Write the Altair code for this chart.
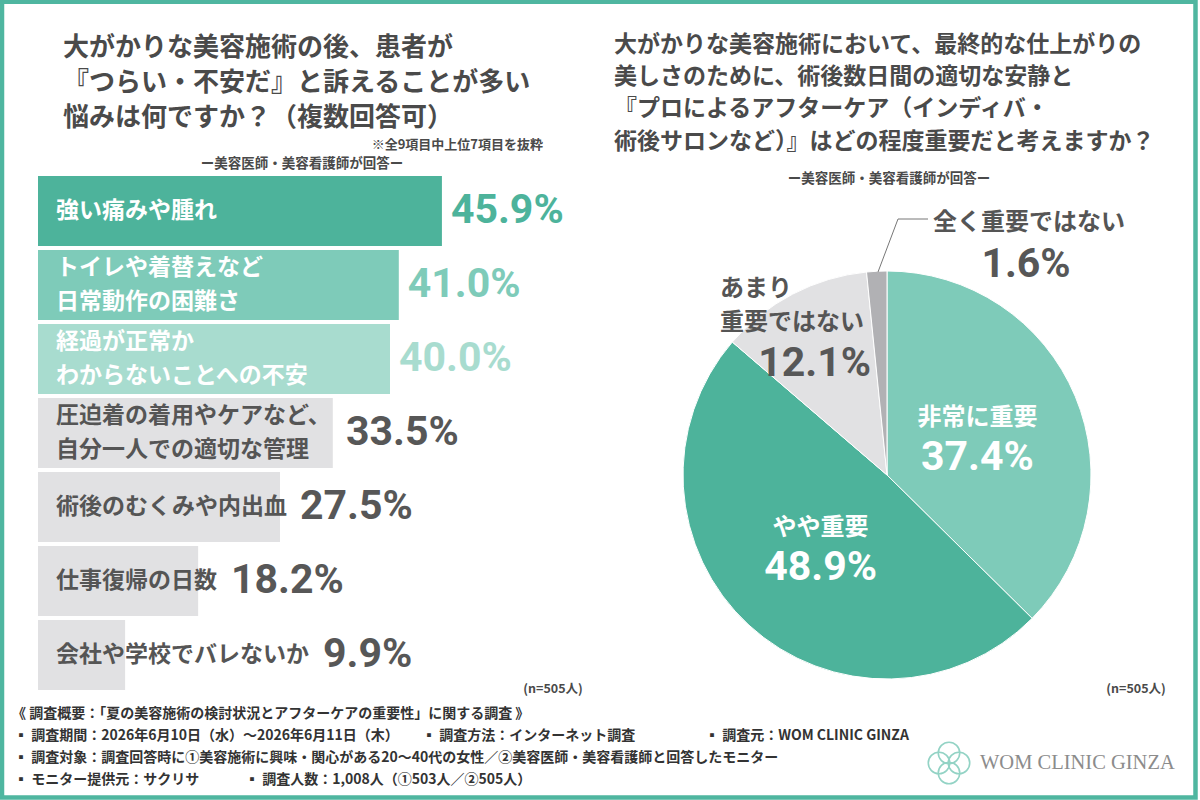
import altair as alt
import pandas as pd

# Survey 1: troubles patients complain about after major cosmetic procedures (top 7 of 9)
items = [
    "強い痛みや腫れ",
    "トイレや着替えなど\n日常動作の困難さ",
    "経過が正常か\nわからないことへの不安",
    "圧迫着の着用やケアなど、\n自分一人での適切な管理",
    "術後のむくみや内出血",
    "仕事復帰の日数",
    "会社や学校でバレないか",
]
item_values = [45.9, 41.0, 40.0, 33.5, 27.5, 18.2, 9.9]

# Survey 2: importance of rest and professional aftercare
answers = ["非常に重要", "やや重要", "あまり重要ではない", "全く重要ではない"]
answer_values = [37.4, 48.9, 12.1, 1.6]

# palette
TEAL = "#4db39b"
TEAL_MID = "#7ecbb9"
TEAL_LIGHT = "#a8dccf"
GRAY_BAR = "#e1e1e3"
GRAY_DARK = "#b1b1b4"
TEXT = "#4a4a4a"
VALUE_GRAY = "#575757"
FRAME = "#4fb6a0"

bar_fill = [TEAL, TEAL_MID, TEAL_LIGHT, GRAY_BAR, GRAY_BAR, GRAY_BAR, GRAY_BAR]
bar_text = ["#ffffff"] * 3 + ["#555555"] * 4
value_text = [TEAL, TEAL_MID, TEAL_LIGHT, VALUE_GRAY, VALUE_GRAY, VALUE_GRAY, VALUE_GRAY]
pie_fill = [TEAL_MID, TEAL, GRAY_BAR, GRAY_DARK]

JP = "Noto Sans CJK JP"
NUM = "Roboto"
SERIF = "Liberation Serif, DejaVu Serif"
NUM_SIZE = 41
LABEL_SIZE = 23

# bar axis: 0..100 % across 38..918 px
X0, X1 = 38, 918
PX_PER_UNIT = (X1 - X0) / 100
LABEL_X = 56

bars_df = pd.DataFrame({"item": items, "value": item_values})
bars_df["chars"] = [max(len(part) for part in s.split("\n")) for s in items]
pie_df = pd.DataFrame({"answer": answers, "value": answer_values, "idx": list(range(len(answers)))})

x_scale = alt.Scale(domain=[0, 100], range=[X0, X1], nice=False, zero=True)
y_scale = alt.Scale(domain=items, range=[176, 690], paddingInner=0.055, paddingOuter=0)
y_enc = alt.Y("item:N", scale=y_scale, axis=None, sort=items)

# value label sits after the bar, or after the category text when that runs past the bar
bar_base = alt.Chart(bars_df).transform_calculate(
    pct="format(datum.value, '.1f') + '%'",
    lines="indexof(datum.item, '\\n') >= 0 ? 2 : 1",
    label_pos=(
        f"max(datum.value + 9 / {PX_PER_UNIT}, "
        f"({LABEL_X - X0} + datum.chars * {LABEL_SIZE} + 14) / {PX_PER_UNIT})"
    ),
)

bars = bar_base.mark_bar(cornerRadius=0).encode(
    x=alt.X("value:Q", scale=x_scale, axis=None),
    y=y_enc,
    color=alt.Color("item:N", scale=alt.Scale(domain=items, range=bar_fill), legend=None),
)


def bar_label_layer(n_lines, shift):
    return bar_base.transform_filter(f"datum.lines == {n_lines}").mark_text(
        align="left", baseline="middle", fontSize=LABEL_SIZE, fontWeight="bold", font=JP,
        lineBreak="\n", lineHeight=34, dy=shift,
    ).encode(
        x=alt.value(LABEL_X),
        y=y_enc,
        text="item:N",
        color=alt.Color("item:N", scale=alt.Scale(domain=items, range=bar_text), legend=None),
    )


bar_labels_one = bar_label_layer(1, 0)
bar_labels_two = bar_label_layer(2, -17)

bar_values = bar_base.mark_text(
    align="left", baseline="middle", fontSize=NUM_SIZE, fontWeight="bold", font=NUM,
).encode(
    x=alt.X("label_pos:Q", scale=x_scale, axis=None),
    y=y_enc,
    text="pct:N",
    color=alt.Color("item:N", scale=alt.Scale(domain=items, range=value_text), legend=None),
)

# pie
CX, CY, R = 887, 475, 204
pie_base = alt.Chart(pie_df).transform_calculate(
    inner_name="datum.value > 20 ? datum.answer : ''",
    inner_pct="datum.value > 20 ? format(datum.value, '.1f') + '%' : ''",
)
theta = alt.Theta("value:Q", stack=True)
order = alt.Order("idx:Q")

pie = pie_base.mark_arc(outerRadius=R, stroke="#ffffff", strokeWidth=1).encode(
    theta=theta,
    order=order,
    x=alt.value(CX),
    y=alt.value(CY),
    color=alt.Color("answer:N", scale=alt.Scale(domain=answers, range=pie_fill), legend=None),
)

pie_names = pie_base.mark_text(
    radius=98, dy=-19, fontSize=24, fontWeight="bold", font=JP, color="#ffffff",
    align="center", baseline="middle",
).encode(theta=theta, order=order, x=alt.value(CX), y=alt.value(CY), text="inner_name:N")

pie_pcts = pie_base.mark_text(
    radius=98, dy=21, fontSize=NUM_SIZE, fontWeight="bold", font=NUM, color="#ffffff",
    align="center", baseline="middle",
).encode(theta=theta, order=order, x=alt.value(CX), y=alt.value(CY), text="inner_pct:N")


def note(text, x, y, size, color=TEXT, weight="bold", align="left", font=JP, baseline="middle"):
    return alt.Chart(alt.Data(values=[{}])).mark_text(
        text=text, align=align, baseline=baseline, fontSize=size,
        fontWeight=weight, color=color, font=font,
    ).encode(x=alt.value(x), y=alt.value(y))


def rule(x1, y1, x2, y2, color="#777777", width=1):
    return alt.Chart(alt.Data(values=[{}])).mark_rule(color=color, strokeWidth=width).encode(
        x=alt.value(x1), y=alt.value(y1), x2=alt.value(x2), y2=alt.value(y2)
    )


FOOT = "#333333"
notes = [
    # left heading
    note("大がかりな美容施術の後、患者が", 63, 48, 26),
    note("『つらい・不安だ』と訴えることが多い", 63, 83, 26),
    note("悩みは何ですか？（複数回答可）", 63, 118, 26),
    note("※全9項目中上位7項目を抜粋", 543, 145, 13, align="right"),
    note("ー美容医師・美容看護師が回答ー", 302, 164, 13.5, align="center"),
    note("(n=505人)", 553, 689, 12.5, align="center"),
    # right heading
    note("大がかりな美容施術において、最終的な仕上がりの", 614, 45, 23),
    note("美しさのために、術後数日間の適切な安静と", 614, 77, 23),
    note("『プロによるアフターケア（インディバ・", 614, 109, 23),
    note("術後サロンなど）』はどの程度重要だと考えますか？", 614, 142, 23),
    note("ー美容医師・美容看護師が回答ー", 889, 179, 13.5, align="center"),
    note("(n=505人)", 1136, 689, 12.5, align="center"),
    # outside pie labels
    note("全く重要ではない", 1029, 223, 24, color="#555555", align="center"),
    note(f"{answer_values[3]:.1f}%", 1026, 265, NUM_SIZE, color=VALUE_GRAY, align="center", font=NUM),
    note("あまり", 720, 289, 24, color="#555555"),
    note("重要ではない", 720, 323, 24, color="#555555"),
    note(f"{answer_values[2]:.1f}%", 871, 364, NUM_SIZE, color=VALUE_GRAY, align="right", font=NUM),
    # survey outline
    note("《 調査概要：「夏の美容施術の検討状況とアフターケアの重要性」に関する調査 》", 12, 714, 14, color=FOOT),
    note("▪ 調査期間：2026年6月10日（水）～2026年6月11日（木）", 14, 736, 14, color=FOOT),
    note("▪ 調査方法：インターネット調査", 422, 736, 14, color=FOOT),
    note("▪ 調査元：WOM CLINIC GINZA", 705, 736, 14, color=FOOT),
    note("▪ 調査対象：調査回答時に①美容施術に興味・関心がある20～40代の女性／②美容医師・美容看護師と回答したモニター",
         14, 758, 14, color=FOOT),
    note("▪ モニター提供元：サクリサ", 14, 780, 14, color=FOOT),
    note("▪ 調査人数：1,008人（①503人／②505人）", 245, 780, 14, color=FOOT),
    # brand
    note("WOM CLINIC GINZA", 980, 763, 20.5, color="#8c8c8c", weight="normal", font=SERIF),
]

leaders = [rule(878, 272, 898, 219), rule(898, 219, 928, 219)]

logo = [
    alt.Chart(alt.Data(values=[{}])).mark_point(
        shape="circle", filled=False, size=460, color="#93d3c5", strokeWidth=1.6, opacity=1
    ).encode(x=alt.value(949 + dx), y=alt.value(763 + dy))
    for dx, dy in [(-10, 0), (10, 0), (0, -10), (0, 10)]
]

frame = alt.Chart(alt.Data(values=[{}])).mark_rect(
    fillOpacity=0, stroke=FRAME, strokeWidth=4.5
).encode(x=alt.value(2), x2=alt.value(1195.5), y=alt.value(1.8), y2=alt.value(797.5))

chart = alt.layer(
    bars, bar_labels_one, bar_labels_two, bar_values, pie, pie_names, pie_pcts,
    *notes, *leaders, *logo, frame
).resolve_scale(color="independent").properties(
    width=1200, height=800, padding=0, autosize=alt.AutoSizeParams(type="none"),
    background="#ffffff",
).configure_view(stroke=None)

chart.save("out.html", embed_options={"renderer": "svg", "actions": False})
